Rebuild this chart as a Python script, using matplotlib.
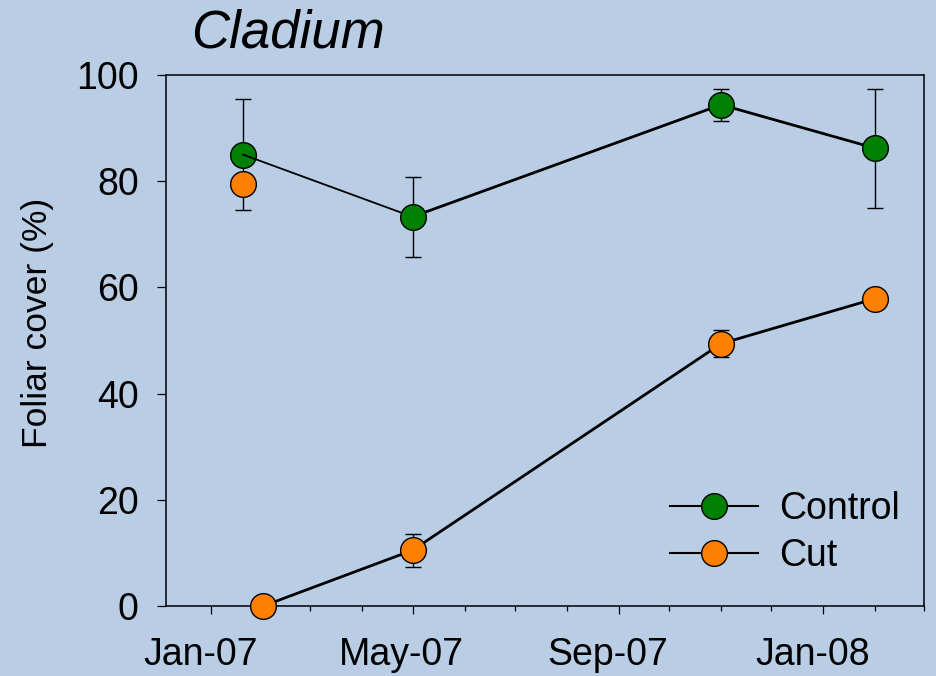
import matplotlib
matplotlib.use('Agg')
import matplotlib.pyplot as plt
import matplotlib.dates as mdates
import matplotlib.transforms as mtransforms
from datetime import datetime

plt.rcParams['font.family'] = ['Liberation Sans', 'DejaVu Sans']

bg = '#B9CDE5'
green = '#008000'
orange = '#FF8000'

# Control plots
ctrl_dates = [datetime(2007, 1, 20), datetime(2007, 5, 1), datetime(2007, 11, 1), datetime(2008, 2, 1)]
ctrl_cover = [85.0, 73.3, 94.4, 86.2]
ctrl_err = [10.4, 7.5, 3.0, 11.2]

# Cut plots (first value is before cutting)
cut_pre_date = [datetime(2007, 1, 20)]
cut_pre_cover = [79.4]
cut_dates = [datetime(2007, 2, 1), datetime(2007, 5, 1), datetime(2007, 11, 1), datetime(2008, 2, 1)]
cut_cover = [0.0, 10.5, 49.4, 57.9]
cut_err = [0.0, 3.1, 2.6, 0.0]

fig = plt.figure(figsize=(9.36, 6.76), dpi=100)
fig.patch.set_facecolor(bg)
ax = fig.add_axes([166/936, 1 - 606/676, 758/936, 531/676])
ax.set_facecolor(bg)

ms = 18.5
fs = 27
# error bars
ax.errorbar(ctrl_dates, ctrl_cover, yerr=ctrl_err, fmt='none', ecolor='black',
            elinewidth=1, capsize=6, capthick=1, zorder=2)
ax.errorbar(cut_dates, cut_cover, yerr=cut_err, fmt='none', ecolor='black',
            elinewidth=1, capsize=6, capthick=1, zorder=2)

# lines
ax.plot(ctrl_dates[:2], ctrl_cover[:2], color='black', lw=1.3, zorder=3.5)
ax.plot(ctrl_dates[1:], ctrl_cover[1:], color='black', lw=2, zorder=3)
ax.plot(cut_dates, cut_cover, color='black', lw=2, zorder=3, clip_on=False)

# markers
ax.plot(ctrl_dates[:1], ctrl_cover[:1], 'o', ms=ms, mfc=green, mec='black', mew=1, zorder=3.2)
ax.plot(ctrl_dates[1:], ctrl_cover[1:], 'o', ms=ms, mfc=green, mec='black', mew=1, zorder=4)
ax.plot(cut_pre_date, cut_pre_cover, 'o', ms=ms, mfc=orange, mec='black', mew=1, zorder=4)
ax.plot(cut_dates, cut_cover, 'o', ms=ms, mfc=orange, mec='black', mew=1, zorder=4, clip_on=False)

# legend handles
h1, = ax.plot([], [], '-o', color='black', lw=1.5, ms=ms, mfc=green, mec='black', mew=1, label='Control')
h2, = ax.plot([], [], '-o', color='black', lw=1.5, ms=ms, mfc=orange, mec='black', mew=1, label='Cut')
ax.legend(handles=[h1, h2], loc='upper left', bbox_to_anchor=(670/936, 1 - 491/676),
          bbox_transform=fig.transFigure, frameon=False, fontsize=fs,
          handlelength=2.35, handletextpad=0.55, labelspacing=0.3,
          borderpad=0, borderaxespad=0)

ax.set_xlim(datetime(2006, 12, 5), datetime(2008, 3, 1))
ax.set_ylim(0, 100)
ax.set_yticks([0, 20, 40, 60, 80, 100])
ax.xaxis.set_major_locator(mdates.MonthLocator(bymonth=[1, 5, 9]))
ax.xaxis.set_minor_locator(mdates.MonthLocator())
ax.xaxis.set_major_formatter(mdates.DateFormatter('%b-%y'))

for s in ax.spines.values():
    s.set_linewidth(1.1)
ax.tick_params(axis='y', which='major', direction='out', length=6.7, width=0.9,
               labelsize=fs, pad=13)
ax.tick_params(axis='x', which='major', direction='out', length=5.6, width=0.9,
               labelsize=fs, pad=17)
ax.tick_params(axis='x', which='minor', direction='out', length=3.6, width=0.9)

# date labels sit a little left of their ticks in the original
shift = mtransforms.ScaledTranslation(-11/100, 0, fig.dpi_scale_trans)
for lab in ax.get_xticklabels():
    lab.set_transform(lab.get_transform() + shift)

fig.text(38/936, 1 - 323/676, 'Foliar cover (%)', rotation=90, ha='center',
         va='center', fontsize=25.5)
fig.text(191/936, 1 - 48/676, 'Cladium', style='italic', fontsize=38,
         ha='left', va='baseline')

fig.savefig('out.png', dpi=100, facecolor=bg)
